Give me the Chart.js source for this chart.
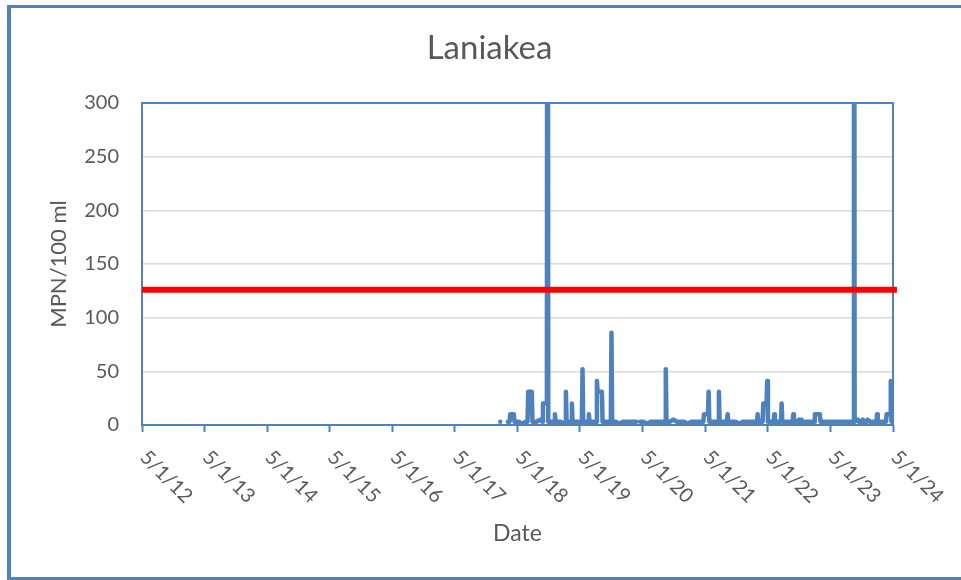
<!DOCTYPE html>
<html>
<head>
<meta charset="utf-8">
<script src="https://cdn.jsdelivr.net/npm/chart.js@4.4.1/dist/chart.umd.min.js"></script>
<style>
html,body{margin:0;padding:0;background:#fff;}
#wrap{width:961px;height:580px;position:relative;}
</style>
</head>
<body>
<div id="wrap"><canvas id="c" width="961" height="580"></canvas></div>
<script>
const chartTitle = 'Laniakea';
const yAxisTitle = 'MPN/100 ml';
const xAxisTitle = 'Date';

const xTickDates = ['2012-05-01','2013-05-01','2014-05-01','2015-05-01','2016-05-01','2017-05-01',
                    '2018-05-01','2019-05-01','2020-05-01','2021-05-01','2022-05-01','2023-05-01','2024-05-01'];
const xTickLabels = ['5/1/12','5/1/13','5/1/14','5/1/15','5/1/16','5/1/17',
                     '5/1/18','5/1/19','5/1/20','5/1/21','5/1/22','5/1/23','5/1/24'];
const yTickMin = 0;
const yTickMax = 300;
const yTickStep = 50;

// Sample dates and enterococcus MPN values (null = no sampling / gap)
const sampleDates = [
  '2018-01-21','2018-01-25','2018-02-10','2018-03-06','2018-03-16','2018-03-20','2018-04-10','2018-04-14','2018-05-08','2018-05-29',
  '2018-06-19','2018-06-29','2018-07-03','2018-07-24','2018-07-28','2018-08-21','2018-09-11','2018-09-23','2018-09-27','2018-10-20',
  '2018-10-24','2018-10-28','2018-11-20','2018-12-02','2018-12-06','2018-12-10',
  '2019-01-08','2019-01-29','2019-02-04','2019-02-08','2019-02-12','2019-03-11','2019-03-15','2019-03-19','2019-04-16','2019-05-12',
  '2019-05-16','2019-05-20','2019-06-18','2019-06-22','2019-06-26','2019-07-23','2019-08-04','2019-08-08','2019-08-12','2019-09-06',
  '2019-09-10','2019-10-08','2019-10-28','2019-11-01','2019-11-05','2019-11-26','2019-12-17',
  '2020-01-07','2020-01-28','2020-02-18','2020-03-10','2020-03-24','2020-04-05','2020-04-16','2020-05-05','2020-05-26','2020-06-16',
  '2020-07-07','2020-07-28','2020-08-18','2020-09-09','2020-09-13','2020-09-17','2020-10-06','2020-10-27','2020-11-17','2020-12-08',
  '2020-12-29',
  '2021-01-19','2021-02-09','2021-03-02','2021-03-23','2021-04-20','2021-04-24','2021-05-17','2021-05-21','2021-05-25','2021-06-15',
  '2021-07-16','2021-07-20','2021-07-24','2021-08-17','2021-09-05','2021-09-09','2021-09-13','2021-10-05','2021-10-26','2021-11-16',
  '2021-12-07','2021-12-28',
  '2022-01-18','2022-02-08','2022-02-27','2022-03-03','2022-03-07','2022-04-01','2022-04-05','2022-04-24','2022-04-28','2022-05-02',
  '2022-05-24','2022-06-04','2022-06-08','2022-06-12','2022-07-05','2022-07-17','2022-07-21','2022-07-25','2022-08-16','2022-09-06',
  '2022-09-23','2022-09-27','2022-10-01','2022-10-18','2022-11-01','2022-11-08','2022-11-15','2022-11-22','2022-12-06','2022-12-27',
  '2023-01-17','2023-01-27','2023-01-31','2023-03-01','2023-03-05','2023-03-28','2023-04-18','2023-05-09','2023-05-30','2023-06-20',
  '2023-07-11','2023-08-01','2023-08-22','2023-09-12','2023-09-16','2023-09-20','2023-10-10','2023-10-24','2023-11-07','2023-11-21',
  '2023-12-05','2023-12-19',
  '2024-01-09','2024-01-25','2024-01-29','2024-02-02','2024-02-27','2024-03-21','2024-03-25','2024-04-14','2024-04-18','2024-04-22'
];
const sampleValues = [
  3, 3, null, 3, 3, 10, 10, 3, 3, 1,
  3, 3, 31, 31, 3, 3, 5, 3, 20, 20,
  1000, 3, 3, 3, 10, 3,
  3, 1, 3, 31, 3, 3, 20, 3, 3, 3,
  52, 3, 3, 10, 3, 3, 3, 41, 31, 31,
  3, 3, 3, 86, 3, 3, 1,
  3, 3, 3, 3, 3, null, 3, 3, 1, 3,
  3, 3, 3, 3, 52, 3, 3, 5, 3, 3,
  3,
  1, 3, 3, 3, 3, 10, 10, 31, 3, 3,
  3, 31, 3, 3, 3, 10, 3, 3, 3, 1,
  3, 3,
  3, 3, 3, 10, 3, 3, 20, 20, 41, 3,
  3, 3, 10, 3, 3, 3, 20, 3, 3, 3,
  3, 10, 3, 3, 5, 1, 5, 1, 3, 3,
  3, 3, 10, 10, 3, 3, 3, 3, 3, 3,
  3, 3, 3, 3, 1000, 3, 5, 1, 5, 1,
  5, 3,
  3, 3, 10, 3, 3, 3, 10, 10, 41, 3
];

// Water quality standard line
const standardValue = 126;
const standardDates = ['2012-05-01', '2024-05-24'];

const BLUE = '#4F81BD';
const TEXT = '#595959';
const FONT = 'Lato';

const toMs = d => Date.parse(d);

const decorPlugin = {
  id: 'decor',
  beforeDraw(chart) {
    const ctx = chart.ctx;
    ctx.save();
    ctx.fillStyle = '#ffffff';
    ctx.fillRect(0, 0, chart.width, chart.height);
    ctx.fillStyle = BLUE;
    ctx.fillRect(7, 5, chart.width - 7, 3);
    ctx.fillRect(7, 5, 4, chart.height - 5);
    ctx.fillRect(7, 577, chart.width - 7, 3);
    ctx.restore();
  },
  beforeDatasetsDraw(chart) {
    const {ctx, chartArea: a} = chart;
    ctx.save();
    ctx.strokeStyle = BLUE;
    ctx.lineWidth = 2;
    ctx.strokeRect(a.left, a.top, a.right - a.left, a.bottom - a.top);
    ctx.restore();
  },
  afterDraw(chart) {
    const s = chart.scales.x;
    const ctx = chart.ctx;
    ctx.save();
    ctx.font = '20px ' + FONT;
    ctx.fillStyle = TEXT;
    ctx.textAlign = 'left';
    ctx.textBaseline = 'middle';
    s.ticks.forEach((t, i) => {
      const x = s.getPixelForValue(t.value);
      ctx.save();
      ctx.translate(x + 1.5, s.top + 29);
      ctx.rotate(Math.PI / 4);
      ctx.fillText(xTickLabels[i], 0, 0);
      ctx.restore();
    });
    ctx.restore();
  }
};

new Chart(document.getElementById('c'), {
  type: 'line',
  data: {
    datasets: [
      {
        label: 'Standard',
        data: standardDates.map(d => ({x: toMs(d), y: standardValue})),
        borderColor: '#FF0000',
        borderWidth: 6,
        borderCapStyle: 'butt',
        pointRadius: 0,
        clip: false,
        order: 0
      },
      {
        label: chartTitle,
        data: sampleDates.map((d, i) => ({x: toMs(d), y: sampleValues[i]})),
        borderColor: BLUE,
        borderWidth: 4.5,
        borderCapStyle: 'round',
        borderJoinStyle: 'round',
        pointRadius: 0,
        spanGaps: false,
        tension: 0,
        clip: 0,
        order: 1
      }
    ]
  },
  options: {
    responsive: false,
    animation: false,
    devicePixelRatio: 1,
    layout: {padding: {left: 18, right: 0, top: 0, bottom: 0}},
    plugins: {
      legend: {display: false},
      tooltip: {enabled: false},
      title: {
        display: true,
        text: chartTitle,
        color: TEXT,
        font: {family: FONT, size: 33, weight: 'normal', lineHeight: 1.2},
        padding: {top: 28.7, bottom: 34.7}
      }
    },
    scales: {
      x: {
        type: 'linear',
        min: toMs(xTickDates[0]),
        max: toMs(xTickDates[xTickDates.length - 1]),
        afterBuildTicks: s => { s.ticks = xTickDates.map(d => ({value: toMs(d)})); },
        afterFit: s => { s.height = 155; },
        ticks: {display: false},
        grid: {drawOnChartArea: false, drawTicks: true, tickLength: 7, tickColor: BLUE, tickWidth: 2, color: BLUE},
        border: {display: false},
        title: {
          display: true, text: xAxisTitle, color: TEXT,
          font: {family: FONT, size: 23, lineHeight: 1.2},
          padding: {top: 0, bottom: 33}
        }
      },
      y: {
        min: yTickMin,
        max: yTickMax,
        afterFit: s => { s.width = 124; },
        ticks: {stepSize: yTickStep, padding: 23, color: TEXT, font: {family: FONT, size: 20}},
        grid: {
          drawTicks: false,
          lineWidth: 1.5,
          color: c => (c.tick && (c.tick.value === yTickMin || c.tick.value === yTickMax)) ? 'rgba(0,0,0,0)' : '#D9D9D9'
        },
        border: {display: false},
        title: {
          display: true, text: yAxisTitle, color: TEXT,
          font: {family: FONT, size: 22, lineHeight: 1.2},
          padding: {top: 27.8, bottom: 0}
        }
      },
      yRight: {
        position: 'right',
        display: true,
        afterFit: s => { s.width = 68; },
        ticks: {display: false},
        grid: {display: false},
        border: {display: false}
      }
    }
  },
  plugins: [decorPlugin]
});
</script>
</body>
</html>
